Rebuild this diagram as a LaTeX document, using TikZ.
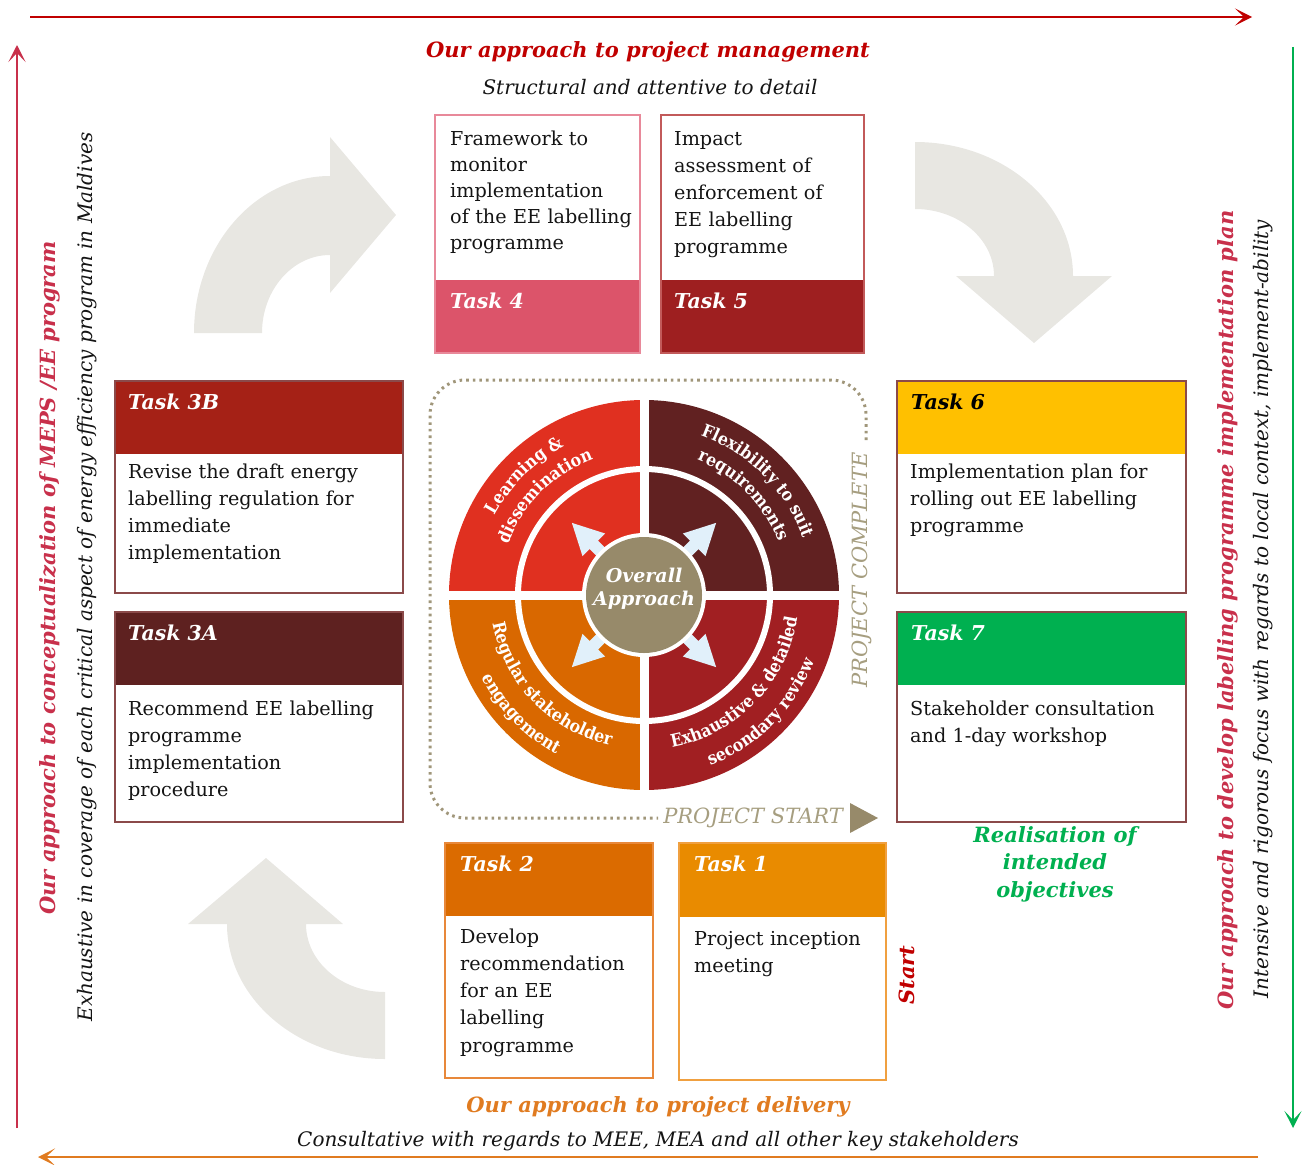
\documentclass[tikz,border=0pt]{standalone}
\usepackage{fontspec}
\setmainfont{DejaVu Serif}
\newfontfamily\wheelfont{DejaVu Serif Condensed}
\usetikzlibrary{decorations.text,arrows.meta}
\definecolor{tred}{HTML}{C00000}
\definecolor{crim}{HTML}{C8304B}
\definecolor{tgreen}{HTML}{00B050}
\definecolor{torange}{HTML}{E07B20}
\definecolor{grayarr}{HTML}{E8E7E2}
\definecolor{khaki}{HTML}{978A6A}
\definecolor{khakitext}{HTML}{A69E80}
\definecolor{khakidot}{HTML}{A0967A}
\definecolor{qTL}{HTML}{E03020}
\definecolor{qTR}{HTML}{612121}
\definecolor{qBL}{HTML}{D96800}
\definecolor{qBR}{HTML}{A11F22}
\definecolor{ablue}{HTML}{E1F0FA}
\definecolor{cTf}{HTML}{DC546A}
\definecolor{bTf}{HTML}{E8899A}
\definecolor{cTv}{HTML}{9E1F20}
\definecolor{bTv}{HTML}{C25A5A}
\definecolor{cTtb}{HTML}{A52116}
\definecolor{cTta}{HTML}{5E2120}
\definecolor{cTs}{HTML}{FFC000}
\definecolor{cTsv}{HTML}{00B050}
\definecolor{bSide}{HTML}{8B4A4A}
\definecolor{cTw}{HTML}{DB6B00}
\definecolor{bTw}{HTML}{E8883A}
\definecolor{cTo}{HTML}{E98B00}
\definecolor{bTo}{HTML}{F0A040}
\definecolor{txt}{HTML}{141414}
\tikzset{
  headnode/.style={fill=#1, draw=none, inner sep=0pt, outer sep=0pt},
  framenode/.style={draw=#1, line width=1.2pt, inner sep=0pt, outer sep=0pt},
  tasklabel/.style={anchor=base west, inner sep=0pt, font=\fontsize{20.5}{20.5}\selectfont\bfseries\itshape},
  tasktext/.style={anchor=base west, inner sep=0pt, align=left, text width=300pt, text=txt, font=\fontsize{19.2}{#1}\selectfont},
  tasktext/.default=27.3,
  wheeltext/.style={decorate, decoration={text along path, text align=center, text={#1}}},
  grayshape/.style={fill=grayarr},
  framearrow/.style={line width=2.5pt, draw=#1},
  sidebold/.style={inner sep=0pt, font=\fontsize{21}{21}\selectfont\bfseries\itshape},
  sideital/.style={inner sep=0pt, font=\fontsize{20}{20}\selectfont\itshape, text=txt},
  projlabel/.style={inner sep=0pt, text=khakitext, font=\fontsize{21}{21}\selectfont\itshape},
}
\begin{document}
\begin{tikzpicture}[x=1pt,y=1pt]
\useasboundingbox (0,0) rectangle (1303,-1164);
% frame arrows
\coordinate (tl) at (30,-17); \coordinate (tr) at (1252,-17);
\coordinate (lb) at (17,-1128); \coordinate (lt) at (17,-45);
\coordinate (rt) at (1293,-47); \coordinate (rb) at (1293,-1128);
\coordinate (br) at (1258,-1157); \coordinate (bl) at (38,-1157);
\draw[framearrow=tred, -{Stealth[length=17pt,width=17pt,inset=9pt]}] (tl) -- (tr);
\draw[framearrow=crim, -{Stealth[length=17pt,width=17pt,inset=9pt]}] (lb) -- (lt);
\draw[framearrow=tgreen, -{Stealth[length=17pt,width=17pt,inset=9pt]}] (rt) -- (rb);
\draw[framearrow=torange, -{Stealth[length=17pt,width=17pt,inset=9pt]}] (br) -- (bl);

% titles
\node[sidebold, text=tred] (ttop) at (648,-52) {Our approach to project management};
\node[sideital] (stop) at (650,-87) {Structural and attentive to detail};
\node[sidebold, text=torange] (tbot) at (658,-1107) {Our approach to project delivery};
\node[sideital] (sbot) at (658,-1141) {Consultative with regards to MEE, MEA and all other key stakeholders};
\node[sidebold, text=crim, rotate=90] (tleft) at (50,-578) {Our approach to conceptualization of MEPS /EE program};
\node[sideital, rotate=90] (sleft) at (87,-577) {Exhaustive in coverage of each critical aspect of energy efficiency program in Maldives};
\node[sidebold, text=crim, rotate=90] (tright) at (1228,-610) {Our approach to develop labelling programme implementation plan};
\node[sideital, rotate=90] (sright) at (1263,-609) {Intensive and rigorous focus with regards to local context, implement-ability};
\node[sidebold, text=tred, rotate=90] (start) at (907,-975) {Start};
\node[sidebold, text=tgreen, align=center, font=\fontsize{21}{27.5}\selectfont\bfseries\itshape] (real) at (1055,-864) {Realisation of\\intended\\objectives};

% gray curved arrows
\fill[grayshape] (194,-333) arc[start angle=180, end angle=90, x radius=136, y radius=157]
  -- (330,-137) -- (396,-215) -- (330,-293) -- (330,-255)
  arc[start angle=90, end angle=180, x radius=68, y radius=78] -- cycle;
\fill[grayshape] (915,-142) arc[start angle=90, end angle=0, x radius=158, y radius=134]
  -- (1112,-276) -- (1034,-343) -- (956,-276) -- (994,-276)
  arc[start angle=0, end angle=90, x radius=79, y radius=67] -- cycle;
\fill[grayshape] (385,-1059) arc[start angle=270, end angle=180, x radius=158, y radius=135]
  -- (188,-924) -- (266,-858) -- (343,-924) -- (306,-924)
  arc[start angle=180, end angle=270, x radius=79, y radius=68] -- cycle;

% dotted frame
\draw[khakidot, line width=3pt, dash pattern=on 2.6pt off 4pt, rounded corners=35pt]
  (866,-440) -- (866,-380) -- (430,-380) -- (430,-818) -- (658,-818);
\node[projlabel, rotate=90] (pc) at (862,-570) {PROJECT COMPLETE};
\node[projlabel] (ps) at (753,-818) {PROJECT START};
\fill[khaki] (850,-803) -- (878,-818) -- (850,-833) -- cycle;

% wheel
\coordinate (C) at (644,-595);
\fill[qTR] (C) -- ++(0:195) arc[start angle=0, end angle=90, radius=195] -- cycle;
\fill[qTL] (C) -- ++(90:195) arc[start angle=90, end angle=180, radius=195] -- cycle;
\fill[qBL] (C) -- ++(180:195) arc[start angle=180, end angle=270, radius=195] -- cycle;
\fill[qBR] (C) -- ++(270:195) arc[start angle=270, end angle=360, radius=195] -- cycle;
\draw[white, line width=6pt] (C) circle[radius=126];
\draw[white, line width=9pt] (448,-595) -- (840,-595);
\draw[white, line width=9pt] (644,-399) -- (644,-791);
\foreach \a in {45,135,225,315} {
  \fill[ablue, rotate around={\a:(C)}] (700,-601) -- (715,-601) -- (715,-611) -- (746,-595) -- (715,-579) -- (715,-589) -- (700,-589) -- cycle;
}
\fill[white] (C) circle[radius=62];
\fill[khaki] (C) circle[radius=58];
\node[inner sep=0pt, text=white, align=center, font=\fontsize{19}{23}\selectfont\bfseries\itshape] (ov) at (644,-589) {Overall\\Approach};

\path[wheeltext={|\wheelfont\fontsize{17.5}{17.5}\selectfont\bfseries\color{white}|Learning {\&}}] (C) ++(180:169) arc[start angle=180, end angle=90, radius=169];
\path[wheeltext={|\wheelfont\fontsize{17.5}{17.5}\selectfont\bfseries\color{white}|dissemination}] (C) ++(180:145) arc[start angle=180, end angle=90, radius=145];
\path[wheeltext={|\wheelfont\fontsize{17.5}{17.5}\selectfont\bfseries\color{white}|Flexibility to suit}] (C) ++(90:169) arc[start angle=90, end angle=0, radius=169];
\path[wheeltext={|\wheelfont\fontsize{17.5}{17.5}\selectfont\bfseries\color{white}|requirements}] (C) ++(90:145) arc[start angle=90, end angle=0, radius=145];
\path[wheeltext={|\wheelfont\fontsize{17.5}{17.5}\selectfont\bfseries\color{white}|Regular stakeholder}] (C) ++(178:154) arc[start angle=178, end angle=270, radius=154];
\path[wheeltext={|\wheelfont\fontsize{17.5}{17.5}\selectfont\bfseries\color{white}|engagement}] (C) ++(178:182) arc[start angle=178, end angle=270, radius=182];
\path[wheeltext={|\wheelfont\fontsize{17.5}{17.5}\selectfont\bfseries\color{white}|Exhaustive {\&} detailed}] (C) ++(270:155) arc[start angle=270, end angle=362, radius=155];
\path[wheeltext={|\wheelfont\fontsize{17.5}{17.5}\selectfont\bfseries\color{white}|secondary review}] (C) ++(270:183) arc[start angle=270, end angle=360, radius=183];

% Task 4
\node[headnode=cTf, minimum width=205pt, minimum height=73pt] (t4h) at (537.5,-316.5) {};
\node[framenode=bTf, minimum width=205pt, minimum height=238pt] (t4) at (537.5,-234) {};
\node[tasklabel, text=white] (t4l) at (450,-308) {Task 4};
\node[tasktext=26] (t4t) at (450,-145) {Framework to\\monitor\\implementation\\of the EE labelling\\programme};
% Task 5
\node[headnode=cTv, minimum width=203pt, minimum height=73pt] (t5h) at (762.5,-316.5) {};
\node[framenode=bTv, minimum width=203pt, minimum height=238pt] (t5) at (762.5,-234) {};
\node[tasklabel, text=white] (t5l) at (674,-308) {Task 5};
\node[tasktext=27.2] (t5t) at (674,-145) {Impact\\assessment of\\enforcement of\\EE labelling\\programme};
% Task 3B
\node[headnode=cTtb, minimum width=288pt, minimum height=73pt] (t3bh) at (259,-417.5) {};
\node[framenode=bSide, minimum width=288pt, minimum height=212pt] (t3b) at (259,-487) {};
\node[tasklabel, text=white] (t3bl) at (128,-409) {Task 3B};
\node[tasktext] (t3bt) at (128,-478) {Revise the draft energy\\labelling regulation for\\immediate\\implementation};
% Task 3A
\node[headnode=cTta, minimum width=288pt, minimum height=73pt] (t3ah) at (259,-648.5) {};
\node[framenode=bSide, minimum width=288pt, minimum height=210pt] (t3a) at (259,-717) {};
\node[tasklabel, text=white] (t3al) at (128,-640) {Task 3A};
\node[tasktext] (t3at) at (128,-715) {Recommend EE labelling\\programme\\implementation\\procedure};
% Task 6
\node[headnode=cTs, minimum width=289pt, minimum height=73pt] (t6h) at (1041.5,-417.5) {};
\node[framenode=bSide, minimum width=289pt, minimum height=212pt] (t6) at (1041.5,-487) {};
\node[tasklabel, text=black] (t6l) at (911,-409) {Task 6};
\node[tasktext] (t6t) at (910,-478) {Implementation plan for\\rolling out EE labelling\\programme};
% Task 7
\node[headnode=cTsv, minimum width=289pt, minimum height=73pt] (t7h) at (1041.5,-648.5) {};
\node[framenode=bSide, minimum width=289pt, minimum height=210pt] (t7) at (1041.5,-717) {};
\node[tasklabel, text=white] (t7l) at (911,-640) {Task 7};
\node[tasktext] (t7t) at (910,-715) {Stakeholder consultation\\and 1-day workshop};
% Task 2
\node[headnode=cTw, minimum width=208pt, minimum height=73pt] (t2h) at (549,-879.5) {};
\node[framenode=bTw, minimum width=208pt, minimum height=235pt] (t2) at (549,-960.5) {};
\node[tasklabel, text=white] (t2l) at (460,-871) {Task 2};
\node[tasktext] (t2t) at (460,-943) {Develop\\recommendation\\for an EE\\labelling\\programme};
% Task 1
\node[headnode=cTo, minimum width=207pt, minimum height=74pt] (t1h) at (782.5,-880) {};
\node[framenode=bTo, minimum width=207pt, minimum height=237pt] (t1) at (782.5,-961.5) {};
\node[tasklabel, text=white] (t1l) at (694,-871) {Task 1};
\node[tasktext] (t1t) at (694,-945) {Project inception\\meeting};
\end{tikzpicture}
\end{document}
